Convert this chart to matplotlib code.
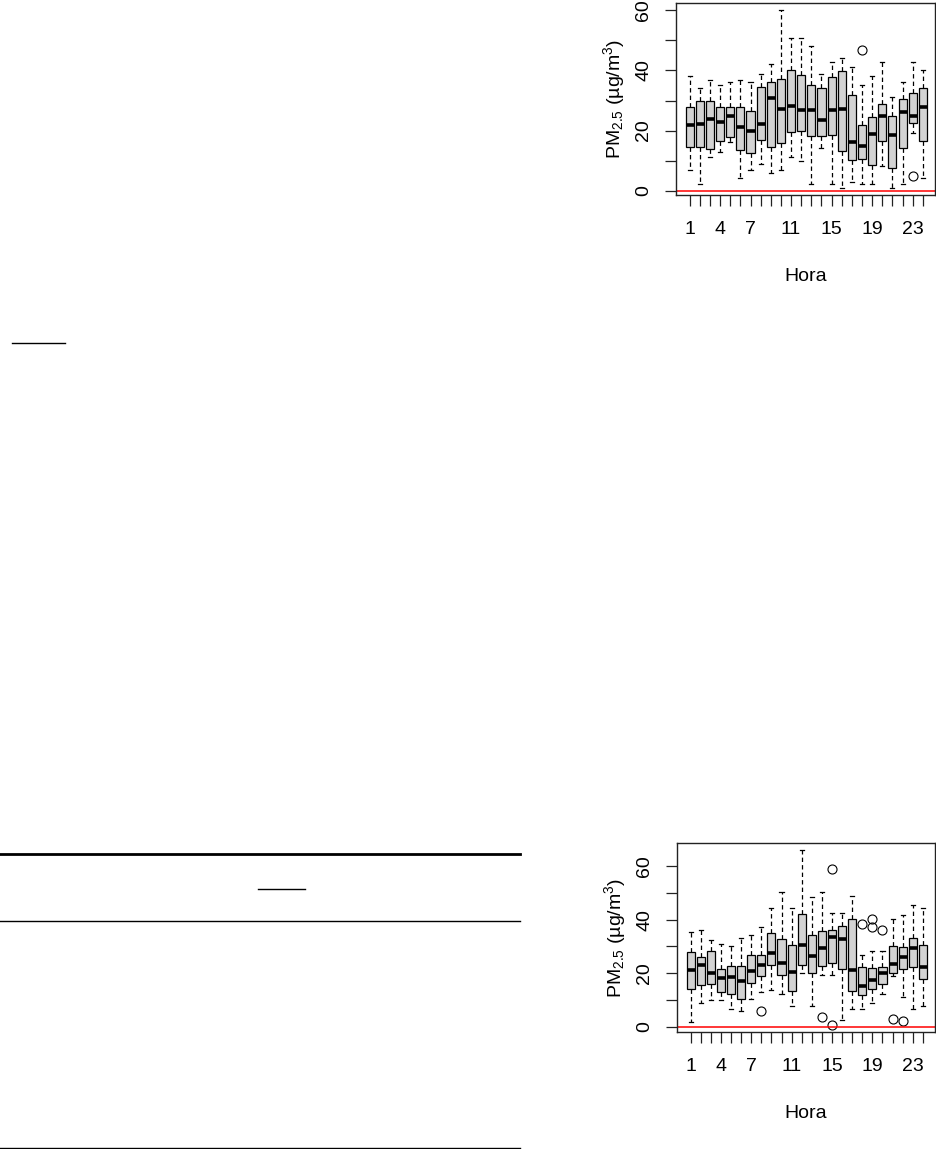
import matplotlib
matplotlib.use("Agg")
import matplotlib.pyplot as plt
from matplotlib.lines import Line2D

plt.rcParams['font.family'] = ['Liberation Sans', 'DejaVu Sans']
plt.rcParams['mathtext.fontset'] = 'custom'
plt.rcParams['mathtext.rm'] = 'Liberation Sans'

hours = list(range(1, 25))
hour_labels = ['1', '', '', '4', '', '', '7', '', '', '', '11', '', '', '', '15', '', '', '', '19', '', '', '', '23', '']

# panel 1 (top)
top_whislo = [6.9, 2.2, 11.1, 12.8, 16.1, 4.1, 6.9, 8.9, 6.0, 6.9, 11.1, 10.0,
              2.2, 14.3, 2.2, 0.8, 3.0, 2.2, 2.2, 8.2, 0.8, 2.2, 19.1, 4.1]
top_q1 = [14.6, 14.6, 14.0, 16.4, 18.0, 13.6, 12.4, 16.9, 14.6, 16.0, 19.7, 20.0,
          18.1, 18.1, 18.4, 13.3, 10.1, 10.6, 8.7, 16.4, 7.7, 14.1, 22.4, 16.4]
top_med = [21.8, 22.2, 24.0, 22.7, 25.0, 21.1, 20.0, 22.2, 30.8, 27.1, 28.2, 26.7,
           26.7, 23.6, 26.7, 27.1, 16.1, 15.0, 18.9, 25.0, 18.7, 26.3, 24.7, 28.0]
top_q3 = [28.0, 29.7, 29.7, 28.0, 28.0, 27.7, 26.4, 34.4, 36.2, 37.3, 40.1, 38.4,
          35.0, 34.1, 37.8, 39.8, 31.7, 21.7, 24.4, 28.9, 24.8, 30.6, 32.4, 34.1]
top_whishi = [38.2, 34.1, 36.9, 35.0, 36.2, 36.9, 36.2, 38.9, 42.2, 60.2, 50.9, 50.9,
              48.2, 38.9, 42.9, 44.1, 41.0, 35.0, 38.2, 42.9, 31.3, 36.2, 42.9, 40.1]
top_fliers = {18: [46.8], 23: [4.9]}

# panel 2 (bottom)
bot_whislo = [1.9, 8.9, 9.9, 9.9, 6.8, 5.9, 10.5, 12.9, 13.9, 12.1, 7.8, 20.1,
              7.8, 19.2, 19.2, 2.7, 6.8, 6.8, 9.0, 12.4, 19.0, 11.2, 6.8, 7.8]
bot_q1 = [14.1, 15.5, 16.0, 12.9, 12.4, 10.3, 16.5, 19.1, 23.2, 19.2, 13.3, 23.2,
          20.1, 22.9, 23.9, 21.7, 13.3, 12.0, 14.1, 16.0, 20.1, 21.7, 22.3, 17.7]
bot_med = [21.1, 23.0, 20.1, 18.3, 18.8, 17.1, 20.7, 23.0, 27.5, 23.7, 20.4, 30.7,
           26.3, 29.5, 33.7, 32.7, 21.1, 15.4, 17.6, 20.1, 23.3, 25.9, 29.5, 22.3]
bot_q3 = [27.8, 26.0, 28.3, 21.7, 22.9, 22.6, 26.9, 26.9, 34.9, 32.7, 30.6, 42.1,
          34.1, 35.9, 36.3, 37.5, 40.1, 22.3, 22.1, 22.3, 30.2, 29.7, 33.2, 30.6]
bot_whishi = [35.3, 36.2, 32.5, 31.0, 30.0, 33.2, 34.1, 37.1, 44.2, 50.4, 44.2, 65.9,
              48.5, 50.4, 42.6, 42.6, 48.7, 27.0, 28.3, 28.3, 40.1, 41.6, 45.6, 44.2]
bot_fliers = {8: [5.8], 14: [3.7], 15: [58.9, 0.6], 18: [38.4], 19: [40.3, 37.2],
              20: [36.2], 21: [3.0], 22: [2.1]}


def make_stats(lo, q1, med, q3, hi, fliers):
    stats = []
    for i in range(len(med)):
        stats.append({'whislo': lo[i], 'q1': q1[i], 'med': med[i], 'q3': q3[i],
                      'whishi': hi[i], 'fliers': fliers.get(i + 1, [])})
    return stats


def draw_panel(ax, stats, ylim):
    ax.bxp(stats, positions=hours, widths=0.8, patch_artist=True,
           boxprops=dict(facecolor='#d3d3d3', edgecolor='black', linewidth=0.9),
           medianprops=dict(color='black', linewidth=2.6, solid_capstyle='butt'),
           whiskerprops=dict(color='black', linewidth=0.9, linestyle=(0, (3.5, 2.5))),
           capprops=dict(color='black', linewidth=0.9),
           flierprops=dict(marker='o', markerfacecolor='none', markeredgecolor='black',
                           markersize=6.5, markeredgewidth=0.8))
    ax.axhline(0, color='red', linewidth=1.1)
    ax.set_xlim(-0.35, 25.2)
    ax.set_ylim(*ylim)
    ax.set_xticks(hours)
    ax.set_xticklabels(hour_labels)
    ax.set_yticks([0, 10, 20, 30, 40, 50, 60])
    ax.set_yticklabels(['0', '', '20', '', '40', '', '60'], rotation=90, va='center')
    ax.tick_params(axis='both', length=8, width=0.9, labelsize=14, color='#222222')
    ax.tick_params(axis='x', pad=11)
    ax.tick_params(axis='y', pad=9)
    for s in ax.spines.values():
        s.set_linewidth(1.0)
        s.set_color('#222222')
    ax.set_xlabel('Hora', fontsize=14, labelpad=21)
    ax.set_ylabel(r'PM$\mathregular{_{2.5}}$ (µg/m$\mathregular{^3}$)', fontsize=14, labelpad=6)


W, H = 937, 1149
fig = plt.figure(figsize=(W / 100, H / 100), dpi=100)

ax1 = fig.add_axes([676 / W, 1 - 195 / H, (935 - 676) / W, (195 - 3) / H])
draw_panel(ax1, make_stats(top_whislo, top_q1, top_med, top_q3, top_whishi, top_fliers), (-1.4, 62.4))

ax2 = fig.add_axes([677 / W, 1 - 1032 / H, (935 - 677) / W, (1032 - 843) / H])
draw_panel(ax2, make_stats(bot_whislo, bot_q1, bot_med, bot_q3, bot_whishi, bot_fliers), (-1.9, 68.6))

# rules of the surrounding page (underlines and table rules)
def hline(x0, x1, y, lw):
    fig.add_artist(Line2D([x0 / W, x1 / W], [1 - y / H, 1 - y / H], color='black', linewidth=lw))

hline(12, 65, 343, 1.0)
hline(0, 520, 854, 2.0)
hline(258, 305, 889, 1.0)
hline(0, 520, 921, 1.0)
hline(0, 520, 1148, 1.0)

fig.savefig('out.png', dpi=100)
